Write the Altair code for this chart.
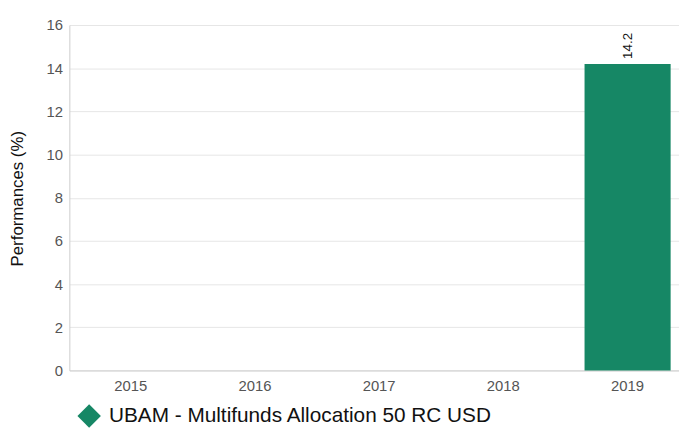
import altair as alt
import pandas as pd

years = ["2015", "2016", "2017", "2018", "2019"]
perf = [None, None, None, None, 14.2]
series = "UBAM - Multifunds Allocation 50 RC USD"

df = pd.DataFrame({"year": years, "perf": perf, "series": [series] * 5})

color = alt.Color(
    "series:N",
    scale=alt.Scale(range=["#168765"]),
    legend=alt.Legend(
        title=None,
        orient="none",
        legendX=8,
        legendY=383,
        symbolType="diamond",
        symbolSize=560,
        symbolStrokeWidth=0,
        labelFontSize=21,
        labelFont="Liberation Sans",
        labelColor="#111111",
        labelLimit=600,
        labelOffset=8,
        symbolOffset=0,
    ),
)

base = alt.Chart(df).encode(
    x=alt.X(
        "year:N",
        sort=years,
        title=None,
        scale=alt.Scale(paddingInner=0.307, paddingOuter=0.147),
        axis=alt.Axis(labelAngle=0, ticks=False, labelPadding=8, labelFontSize=15,
                      labelColor="#555555", labelFont="Liberation Sans",
                      domainColor="#cccccc", grid=False),
    ),
    y=alt.Y(
        "perf:Q",
        title="Performances (%)",
        scale=alt.Scale(domain=[0, 16], nice=False),
        axis=alt.Axis(values=list(range(0, 17, 2)), ticks=False, labelPadding=7,
                      labelFontSize=15, labelColor="#555555", labelFont="Liberation Sans",
                      titleFontSize=17, titleFontWeight="normal", titleFont="Liberation Sans",
                      titleColor="#111111", titleX=-43, titleY=175,
                      domainColor="#cccccc", gridColor="#e6e6e6"),
    ),
)

bars = base.mark_bar().encode(color=color)
labels = base.mark_text(angle=270, align="left", baseline="middle", dx=5,
                        fontSize=13.5, font="Liberation Sans", color="#111111").encode(
    text=alt.Text("perf:Q", format=".1f")
)

chart = (bars + labels).properties(
    width=626, height=349,
    autosize=alt.AutoSizeParams(type="none"),
    padding={"left": 62, "top": 15, "right": -10, "bottom": 60},
).configure_view(stroke=None)

chart.save("out.html", embed_options={"renderer": "svg", "actions": False})
